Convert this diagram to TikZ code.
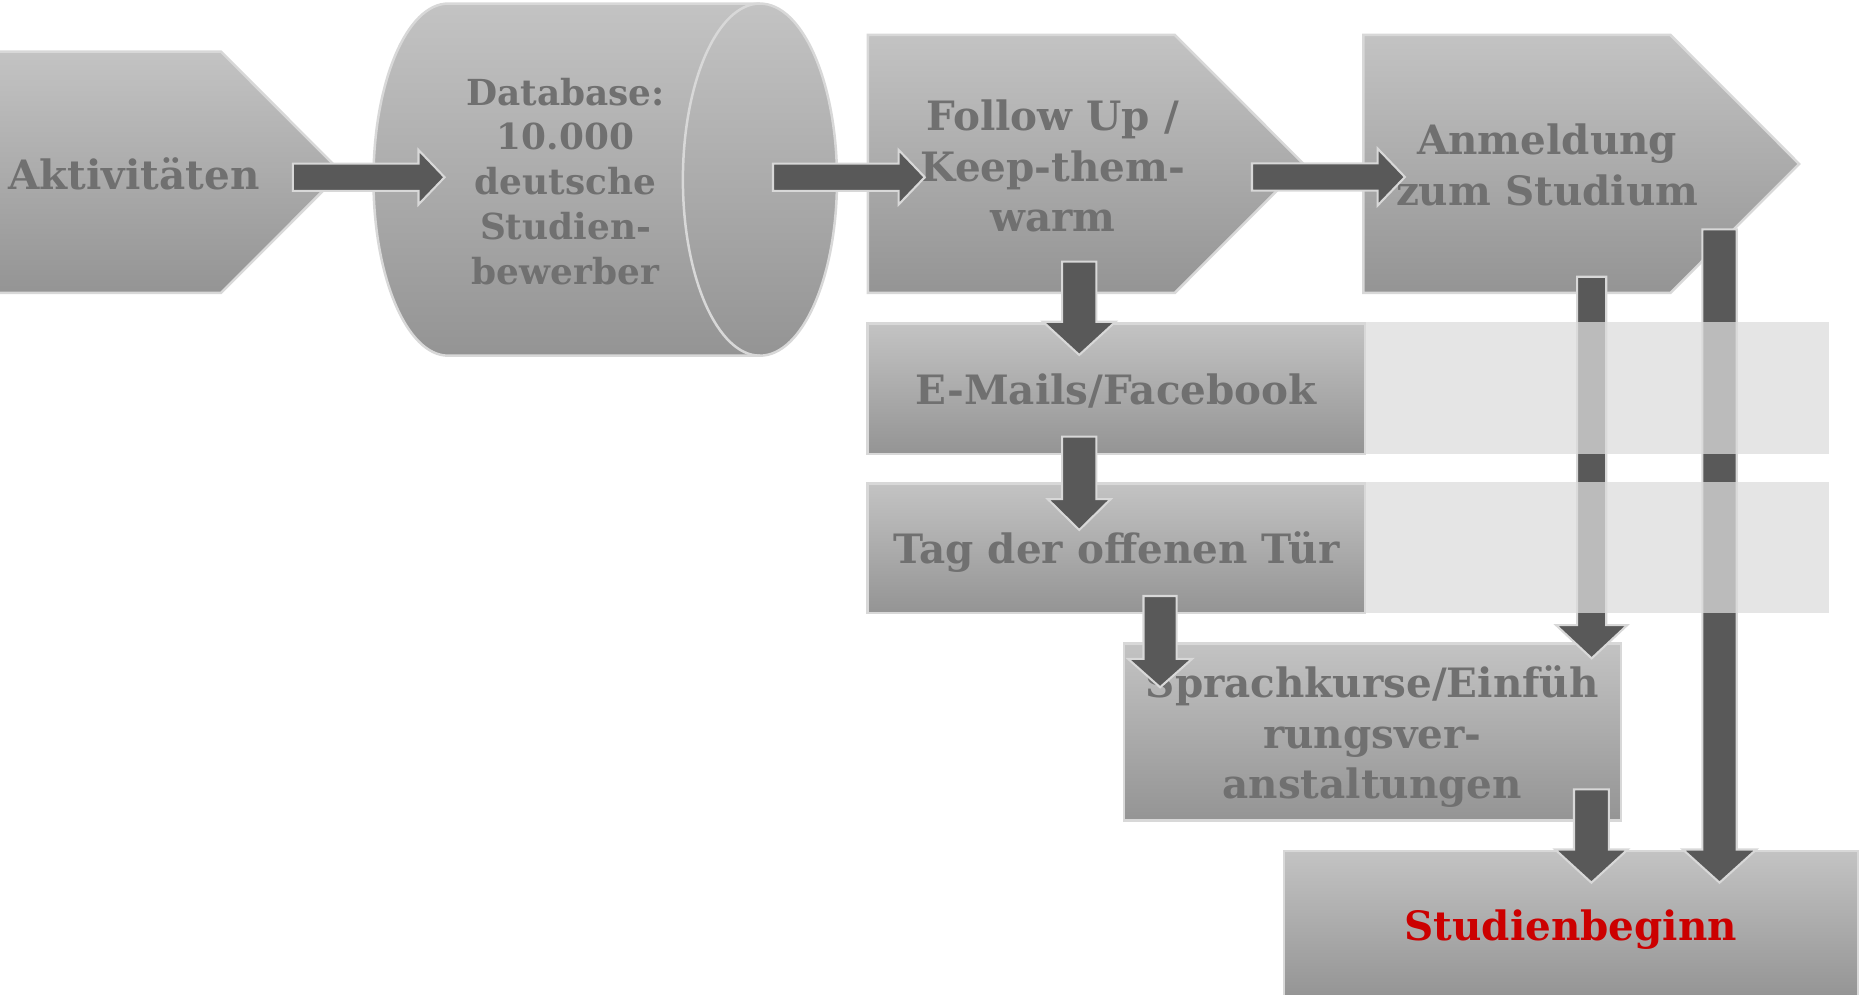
\documentclass[tikz,border=0pt]{standalone}
\usepackage{fontspec}
\setmainfont{DejaVu Serif}
\usetikzlibrary{calc}
\definecolor{boxtop}{RGB}{195,195,195}
\definecolor{boxbot}{RGB}{148,148,148}
\definecolor{boxline}{RGB}{216,216,216}
\definecolor{txtgray}{RGB}{112,112,112}
\definecolor{arrowfill}{RGB}{89,89,89}
\definecolor{bandfill}{RGB}{220,220,220}
\definecolor{redtxt}{RGB}{204,0,0}
\tikzset{
  shapebox/.style={draw=boxline, line width=0.6pt, top color=boxtop, bottom color=boxbot},
  lbl/.style={text=txtgray, font=\fontsize{9.7}{12.1}\selectfont\bfseries, align=center, inner sep=0pt},
  dblbl/.style={lbl, font=\fontsize{8.6}{10.74}\selectfont\bfseries},
  rectbox/.style={shapebox, inner sep=0pt, minimum width=4.19cm},
  blockarrow/.style={fill=arrowfill, draw=boxline, line width=0.5pt},
  band/.style={fill=bandfill, fill opacity=0.75},
}
% horizontal block arrow: start, tip, shaft half, head half, head length
\newcommand\harrowshape[5]{%
  \path[blockarrow] ($(#1)+(0,-#3)$) -- ($(#2)+(-#5,-#3)$) -- ($(#2)+(-#5,-#4)$) -- (#2)
    -- ($(#2)+(-#5,#4)$) -- ($(#2)+(-#5,#3)$) -- ($(#1)+(0,#3)$) -- cycle;}
% vertical (downward) block arrow
\newcommand\varrowshape[5]{%
  \path[blockarrow] ($(#1)+(-#3,0)$) -- ($(#2)+(-#3,-#5)$) -- ($(#2)+(-#4,-#5)$) -- (#2)
    -- ($(#2)+(#4,-#5)$) -- ($(#2)+(#3,-#5)$) -- ($(#1)+(#3,0)$) -- cycle;}
\begin{document}
\begin{tikzpicture}[x=0.01cm,y=-0.01cm]
\useasboundingbox (0,0) rectangle (1568,839);
\clip (0,0) rectangle (1568,839);

% Aktivitaeten pentagon
\path[shapebox] (-20,43.6) -- (186.4,43.6) -- (288,145.3) -- (186.4,247) -- (-20,247) -- cycle;
\node[lbl] (akt) at (113,147) {Aktivitäten};

% Database cylinder
\path[shapebox] (378,3) -- (641,3)
  .. controls (676.9,3) and (706,69.5) .. (706,151.5)
  .. controls (706,233.5) and (676.9,300) .. (641,300)
  -- (378,300)
  .. controls (343.2,300) and (315,233.5) .. (315,151.5)
  .. controls (315,69.5) and (343.2,3) .. (378,3) -- cycle;
\draw[boxline, line width=0.6pt] (641,3) .. controls (605.1,3) and (576,69.5) .. (576,151.5)
  .. controls (576,233.5) and (605.1,300) .. (641,300);
\node[dblbl] (db) at (477,153) {Database:\\10.000\\deutsche\\Studien-\\bewerber};

% Follow Up pentagon
\path[shapebox] (732,29.5) -- (991,29.5) -- (1099.5,138.25) -- (991,247) -- (732,247) -- cycle;
\node[lbl] (fu) at (888,140) {Follow Up /\\Keep-them-\\warm};

% Anmeldung pentagon
\path[shapebox] (1150,29.5) -- (1409,29.5) -- (1517.5,138.25) -- (1409,247) -- (1150,247) -- cycle;
\node[lbl] (anm) at (1305,139) {Anmeldung\\zum Studium};

% rectangles and their texts
\node[rectbox, minimum height=1.10cm] (em) at (941.5,328) {};
\node[lbl] (emt) at (941.5,330) {E-Mails/Facebook};
\node[rectbox, minimum height=1.09cm] (tag) at (941.5,462.5) {};
\node[lbl] (tagt) at (941.5,465.5) {Tag der offenen Tür};
\node[rectbox, minimum height=1.49cm] (spr) at (1157.5,617.5) {};
\node[lbl] (sprt) at (1157.5,621.5) {Sprachkurse/Einfüh\\rungsver-\\anstaltungen};
\node[rectbox, minimum width=4.84cm, minimum height=1.24cm] (stb) at (1325,780) {};
\node[lbl, text=redtxt] (stbt) at (1325,784) {Studienbeginn};

% arrow end points
\coordinate (a1s) at (247,149.5);   \coordinate (a1t) at (375,149.5);
\coordinate (a2s) at (652,149.5);   \coordinate (a2t) at (780,149.5);
\coordinate (a3s) at (1056,149.3);  \coordinate (a3t) at (1185,149.3);
\coordinate (d1s) at (910.3,220.7); \coordinate (d1t) at (910.3,299.4);
\coordinate (d2s) at (910.3,368.3); \coordinate (d2t) at (910.3,447);
\coordinate (d3s) at (978.5,502.7); \coordinate (d3t) at (978.5,579.7);
\coordinate (das) at (1342.5,233.4); \coordinate (dat) at (1342.5,555.3);
\coordinate (dbs) at (1450.4,193.4); \coordinate (dbt) at (1450.4,744.5);
\coordinate (dcs) at (1342.3,665.8); \coordinate (dct) at (1342.3,744.5);

% arrows
\harrowshape{a1s}{a1t}{11.5}{23}{22}
\harrowshape{a2s}{a2t}{11.5}{23}{22}
\harrowshape{a3s}{a3t}{11.5}{24}{23}
\varrowshape{d1s}{d1t}{14.5}{30.5}{28}
\varrowshape{d2s}{d2t}{14.5}{26.5}{26}
\varrowshape{d3s}{d3t}{14}{27}{24}
\varrowshape{das}{dat}{12.3}{30}{28}
\varrowshape{dbs}{dbt}{14.5}{31}{28}
\varrowshape{dcs}{dct}{14.7}{30.6}{28}

% light bands over the long arrows
\path[band] (em.north east) rectangle (1543,383);
\path[band] (tag.north east) rectangle (1543,517);
\end{tikzpicture}
\end{document}
